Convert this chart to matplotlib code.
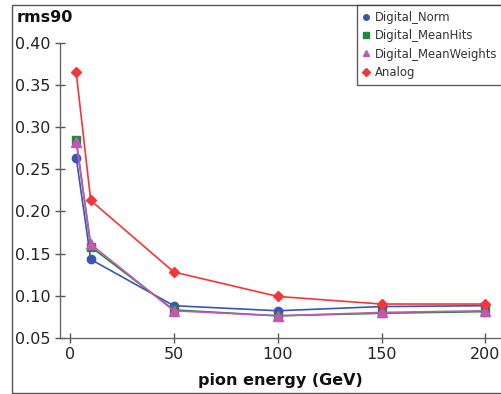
import matplotlib
matplotlib.use('Agg')
import matplotlib.pyplot as plt
from matplotlib.patches import Rectangle

# pion energy (GeV)
energy = [3, 10, 50, 100, 150, 200]

# rms90 per method
digital_norm = [0.264, 0.143, 0.088, 0.082, 0.087, 0.088]
digital_meanhits = [0.285, 0.158, 0.083, 0.076, 0.079, 0.081]
digital_meanweights = [0.283, 0.161, 0.082, 0.076, 0.080, 0.082]
analog = [0.365, 0.213, 0.128, 0.099, 0.090, 0.090]

series = [
    ('Digital_Norm', digital_norm, '#3a55b5', 'o', 6),
    ('Digital_MeanHits', digital_meanhits, '#1f8a3a', 's', 6),
    ('Digital_MeanWeights', digital_meanweights, '#c456b4', '^', 6.5),
    ('Analog', analog, '#f2363a', 'D', 5.5),
]

fig = plt.figure(figsize=(5.02, 3.94), dpi=100)
ax = fig.add_axes([60 / 502, 1 - 337.7 / 394, 1 - 60 / 502, (337.7 - 43) / 394])

handles = []
for name, vals, col, mk, ms in series:
    h, = ax.plot(energy, vals, color=col, marker=mk, markersize=ms, linewidth=1.2,
                 label=name)
    handles.append(h)

ax.set_xlim(-4.8, 208)
ax.set_ylim(0.05, 0.40)
ax.set_xticks([0, 50, 100, 150, 200])
ax.set_yticks([0.05, 0.10, 0.15, 0.20, 0.25, 0.30, 0.35, 0.40])
ax.set_yticklabels(['%.2f' % v for v in ax.get_yticks()])
ax.tick_params(direction='inout', length=7, width=1, colors='#555555',
               labelcolor='#222222', labelsize=11.5)
for s in ['top', 'right']:
    ax.spines[s].set_visible(False)
for s in ['left', 'bottom']:
    ax.spines[s].set_color('#666666')
    ax.spines[s].set_linewidth(1)

fig.text(17 / 502, 1 - 17 / 394, 'rms90', fontsize=11.5, fontweight='bold',
         va='center', ha='left', color='#111111')
fig.text(280 / 502, 1 - 380 / 394, 'pion energy (GeV)', fontsize=11.5,
         fontweight='bold', va='center', ha='center', color='#111111')

# outer frame (right side runs off the image)
fig.patches.append(Rectangle((12 / 502, 1 - 393 / 394), 1.0, (393 - 5) / 394,
                             transform=fig.transFigure, fill=False,
                             edgecolor='#555555', linewidth=1))

small = [plt.Line2D([], [], color=h.get_color(), marker=h.get_marker(),
                    linestyle='none', markersize=4) for h in handles]
leg = fig.legend(small, [s[0] for s in series], loc='upper left',
                 bbox_to_anchor=(357 / 502, 1 - 5 / 394), fontsize=8.4,
                 frameon=True, fancybox=False, handlelength=0.5,
                 handletextpad=0.5, borderpad=0.5, labelspacing=0.46,
                 borderaxespad=0)
leg.get_frame().set_edgecolor('#333333')
leg.get_frame().set_linewidth(1)
for t in leg.get_texts():
    t.set_color('#333333')

fig.savefig('out.png', dpi=100)
